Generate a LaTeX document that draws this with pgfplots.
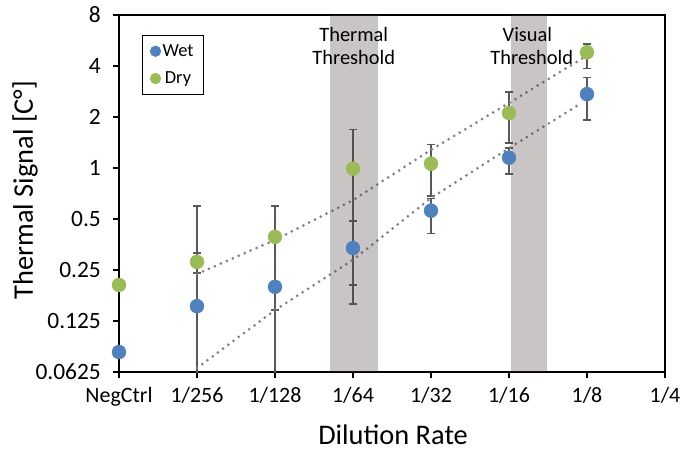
\documentclass[border=0pt]{standalone}
\usepackage{fontspec}
\setmainfont{Carlito}
\usepackage{pgfplots}
\usepackage{pgfplotstable}
\pgfplotsset{compat=1.18}
\definecolor{wetblue}{RGB}{79,129,189}
\definecolor{drygreen}{RGB}{155,187,89}
\definecolor{bandgray}{RGB}{75,62,62}
\definecolor{errgray}{RGB}{89,89,89}
\definecolor{trendgray}{RGB}{128,128,128}

% x: 0=NegCtrl, 1=1/256, ..., 6=1/8
\pgfplotstableread{
x y ep em
0 0.082 0 0
1 0.153 0.442 0.150
2 0.199 0.401 0.195
3 0.337 0.150 0.180
4 0.560 0.100 0.150
5 1.15 0.16 0.23
6 2.73 0.70 0.81
}\wet
\pgfplotstableread{
x y ep em
0 0.204 0 0
1 0.279 0.035 0.039
2 0.392 0.20 0.247
3 0.99 0.70 0.786
4 1.06 0.32 0.377
5 2.11 0.71 0.71
6 4.82 0.58 0.96
}\dry

\begin{document}
\begin{tikzpicture}
\begin{axis}[
  at={(0,0)}, anchor=south west,
  scale only axis,
  width=546bp, height=357bp,
  xmin=0, xmax=7,
  ymode=log, log basis y=2,
  ymin=0.0625, ymax=8,
  xtick={0,1,2,3,4,5,6,7},
  xticklabels={NegCtrl,1/256,1/128,1/64,1/32,1/16,1/8,1/4},
  ytick={0.0625,0.125,0.25,0.5,1,2,4,8},
  yticklabels={0.0625,0.125,0.25,0.5,1,2,4,8},
  xtick pos=bottom, ytick pos=left,
  tick align=outside,
  major tick length=6bp,
  tick style={line width=1.8bp, black},
  axis line style={line width=1.8bp, black},
  xticklabel style={font=\fontsize{22}{22}\selectfont, yshift=-6bp},
  yticklabel style={font=\fontsize{23.5}{23.5}\selectfont, anchor=east,
    text width=72bp, align=right, inner xsep=0pt, xshift=-12bp},
  xlabel={Dilution Rate},
  ylabel={Thermal Signal [C\textdegree]},
  xlabel style={at={(axis description cs:0.502,-0.176)}, anchor=center, font=\fontsize{28.5}{28.5}\selectfont},
  ylabel style={at={(axis description cs:-0.172,0.51)}, anchor=center, font=\fontsize{28.5}{28.5}\selectfont},
  legend style={at={(axis description cs:0.042,0.944)}, anchor=north west,
    draw=black, line width=1.2bp, font=\fontsize{18.5}{18.5}\selectfont,
    inner xsep=8bp, inner ysep=7bp, row sep=10bp},
  legend image code/.code={\draw[mark repeat=2,mark phase=2,#1] plot coordinates {(0bp,0bp) (6bp,0bp) (12bp,0bp)};},
  legend image post style={mark size=5bp},
]
% error bars under all markers
\addplot[forget plot, only marks, mark=none,
  error bars/.cd, y dir=both, y explicit,
  error bar style={line width=1.6bp, errgray},
  error mark options={rotate=90, mark size=4bp, line width=1.6bp, errgray}]
  table[x=x, y=y, y error plus=ep, y error minus=em] {\wet};
\addplot[forget plot, only marks, mark=none,
  error bars/.cd, y dir=both, y explicit,
  error bar style={line width=1.6bp, errgray},
  error mark options={rotate=90, mark size=4bp, line width=1.6bp, errgray}]
  table[x=x, y=y, y error plus=ep, y error minus=em] {\dry};

\addplot[only marks, mark=*, mark size=7bp, color=wetblue, mark options={fill=wetblue, draw=wetblue}]
  table[x=x, y=y] {\wet};
\addlegendentry{Wet}
\addplot[only marks, mark=*, mark size=7bp, color=drygreen, mark options={fill=drygreen, draw=drygreen}]
  table[x=x, y=y] {\dry};
\addlegendentry{Dry}

% trend lines
\addplot[forget plot, trendgray, line width=3bp, line cap=round, dash pattern=on 0pt off 6.5bp]
  coordinates {(1,0.237) (2,0.376) (3,0.646) (4,1.28) (5,2.42) (5.95,4.46)};
\addplot[forget plot, trendgray, line width=3bp, line cap=round, dash pattern=on 0pt off 6.5bp]
  coordinates {(1,0.066) (2,0.145) (3,0.287) (4,0.665) (5,1.31) (5.93,2.42)};

% threshold bands
\addplot[forget plot, draw=none, fill=bandgray, fill opacity=0.3]
  coordinates {(2.70,0.0625) (3.32,0.0625) (3.32,8) (2.70,8)} -- cycle;
\addplot[forget plot, draw=none, fill=bandgray, fill opacity=0.3]
  coordinates {(5.02,0.0625) (5.49,0.0625) (5.49,8) (5.02,8)} -- cycle;

\node[anchor=base, font=\fontsize{20.5}{20.5}\selectfont] at (axis description cs:0.430,0.927) {Thermal};
\node[anchor=base, font=\fontsize{20.5}{20.5}\selectfont] at (axis description cs:0.430,0.860) {Threshold};
\node[anchor=base, font=\fontsize{20.5}{20.5}\selectfont] at (axis description cs:0.748,0.927) {Visual};
\node[anchor=base, font=\fontsize{20.5}{20.5}\selectfont] at (axis description cs:0.756,0.860) {Threshold};
\end{axis}
\pgfresetboundingbox
\path[use as bounding box] (-119bp,-79bp) rectangle (561bp,372bp);
\end{tikzpicture}
\end{document}
